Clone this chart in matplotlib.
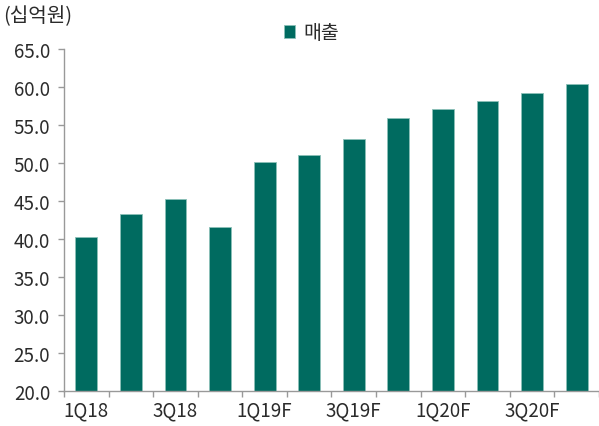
import numpy as np
import matplotlib
matplotlib.use('Agg')
import matplotlib.pyplot as plt

plt.rcParams['font.family'] = ['Noto Sans CJK KR', 'DejaVu Sans']

# data
quarters = ['1Q18', '2Q18', '3Q18', '4Q18', '1Q19F', '2Q19F', '3Q19F', '4Q19F',
            '1Q20F', '2Q20F', '3Q20F', '4Q20F']
sales = [40.3, 43.3, 45.2, 41.6, 50.1, 51.0, 53.2, 55.9, 57.1, 58.2, 59.2, 60.4]
y_ticks = [20.0, 25.0, 30.0, 35.0, 40.0, 45.0, 50.0, 55.0, 60.0, 65.0]
unit_label = '(십억원)'
series_name = '매출'

bar_color = '#006B60'
text_color = '#2b2b2b'
axis_color = '#999999'

fig = plt.figure(figsize=(5.99, 4.27), dpi=100)
ax = fig.add_axes([0.1068, 0.082, 0.8932, 0.801])

x = np.arange(len(quarters))
ax.bar(x, sales, width=0.49, color=bar_color, edgecolor='#8cc0b8', linewidth=0.6,
       label=series_name, zorder=2)

ax.set_xlim(-0.5, len(quarters) - 0.5)
ax.set_ylim(20, 65)
ax.set_yticks(y_ticks)
ax.set_yticklabels([f'{v:.1f}' for v in y_ticks], fontsize=13.5, color=text_color)

ax.set_xticks(x[::2])
ax.set_xticklabels(quarters[::2], fontsize=13.5, color=text_color)
ax.set_xticks(np.arange(-0.5, len(quarters), 1), minor=True)
ax.tick_params(axis='x', which='major', length=0, pad=6)
ax.tick_params(axis='x', which='minor', length=4, color=axis_color, width=1)
ax.tick_params(axis='y', length=4, color=axis_color, width=1, pad=6)

for side in ['top', 'right']:
    ax.spines[side].set_visible(False)
for side in ['left', 'bottom']:
    ax.spines[side].set_color(axis_color)
    ax.spines[side].set_linewidth(1)

fig.text(0.006, 0.962, unit_label, fontsize=14.5, color=text_color, va='center', ha='left')

leg = ax.legend(loc='center', bbox_to_anchor=(0.462, 1.047), frameon=False,
                fontsize=14, handlelength=0.6, handleheight=0.6, handletextpad=0.4)
for t in leg.get_texts():
    t.set_color(text_color)

fig.savefig('out.png', dpi=100)
